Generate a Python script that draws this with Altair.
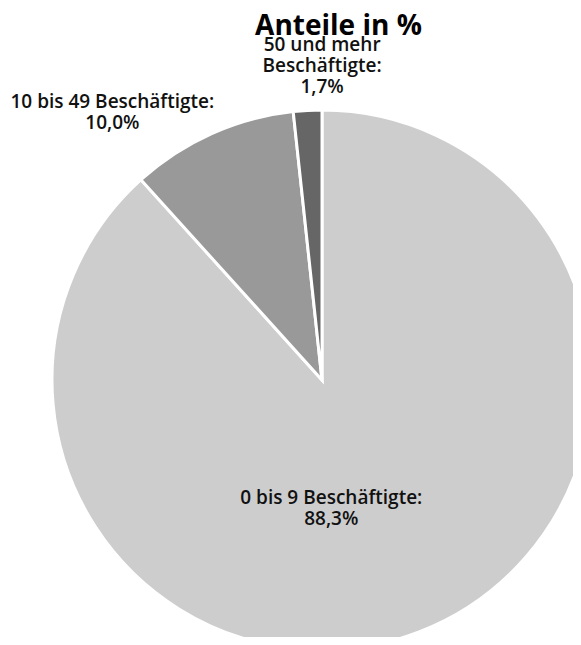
import altair as alt
import pandas as pd

categories = ["0 bis 9 Beschäftigte", "10 bis 49 Beschäftigte", "50 und mehr Beschäftigte"]
label_names = ["0 bis 9 Beschäftigte", "10 bis 49 Beschäftigte", "50 und mehr\nBeschäftigte"]
shares = [88.3, 10.0, 1.7]
colors = ["#cdcdcd", "#999999", "#666666"]
title_lines = ["Unternehmen in Hamburg", "Anteile in %"]

labels = [f"{n}:\n{str(v).replace('.', ',')}%" for n, v in zip(label_names, shares)]
df = pd.DataFrame({"cat": categories, "share": shares, "label": labels, "idx": [0, 1, 2]})

FONT = "Open Sans"
CX, CY = 314, 372

base = alt.Chart(df).encode(
    theta=alt.Theta("share:Q", stack=True),
    order=alt.Order("idx:Q"),
    x=alt.value(CX),
    y=alt.value(CY),
)

pie = base.mark_arc(radius=270, stroke="white", strokeWidth=3).encode(
    color=alt.Color("cat:N", scale=alt.Scale(domain=categories, range=colors), legend=None)
)


def label_layer(i, r, dx, dy):
    return base.mark_text(
        radius=r, dx=dx, dy=dy, font=FONT, fontSize=19, fontWeight=600,
        lineBreak="\n", lineHeight=21, align="center", baseline="middle", color="#111111",
    ).encode(text=alt.condition(alt.datum.idx == i, "label:N", alt.value("")))


chart = alt.layer(
    pie,
    label_layer(0, 126, -36, 0),
    label_layer(1, 305, -85, 0),
    label_layer(2, 335, 18, 0),
).properties(
    width=565,
    height=629,
    autosize=alt.AutoSizeParams(type="none"),
    padding=0,
    title=alt.TitleParams(
        title_lines, font=FONT, fontSize=28, fontWeight="bold", anchor="middle",
        dx=48, dy=55, lineHeight=35, color="#000000", offset=0, baseline="alphabetic",
    ),
).configure_view(stroke=None)

chart.save("out.html", embed_options={"renderer": "svg", "actions": False})
